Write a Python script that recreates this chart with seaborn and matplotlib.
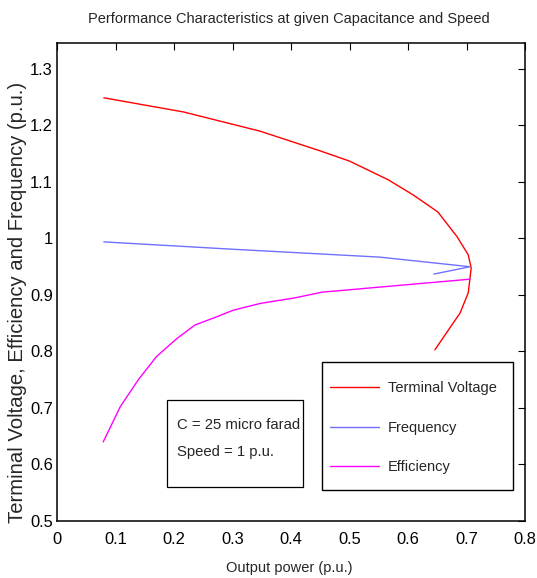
import matplotlib
matplotlib.use("Agg")
import matplotlib.pyplot as plt
from matplotlib import font_manager as fm
import seaborn as sns
from matplotlib.patches import Rectangle

# ---- data ----
volt_x = [0.080, 0.216, 0.347, 0.400, 0.450, 0.500, 0.566, 0.609, 0.651, 0.684, 0.703, 0.708, 0.703, 0.689, 0.675, 0.646]
volt_y = [1.249, 1.224, 1.190, 1.172, 1.155, 1.137, 1.104, 1.077, 1.047, 1.003, 0.971, 0.948, 0.904, 0.868, 0.847, 0.803]

freq_x = [0.080, 0.300, 0.552, 0.706, 0.644]
freq_y = [0.994, 0.981, 0.967, 0.950, 0.937]

eff_x = [0.079, 0.108, 0.139, 0.170, 0.205, 0.236, 0.267, 0.301, 0.347, 0.407, 0.453, 0.552, 0.706]
eff_y = [0.640, 0.702, 0.750, 0.791, 0.823, 0.847, 0.859, 0.873, 0.885, 0.895, 0.905, 0.914, 0.928]

labels = ["Terminal Voltage", "Frequency", "Efficiency"]
colors = ["#ff0000", "#7070ff", "#ff00ff"]
xticks = [0, 0.1, 0.2, 0.3, 0.4, 0.5, 0.6, 0.7, 0.8]
xtick_labels = ["0", "0.1", "0.2", "0.3", "0.4", "0.5", "0.6", "0.7", "0.8"]
yticks = [0.5, 0.6, 0.7, 0.8, 0.9, 1.0, 1.1, 1.2, 1.3]
ytick_labels = ["0.5", "0.6", "0.7", "0.8", "0.9", "1", "1.1", "1.2", "1.3"]
title = "Performance Characteristics at given Capacitance and Speed"
xlabel = "Output power (p.u.)"
ylabel = "Terminal Voltage, Efficiency and Frequency (p.u.)"
note_lines = ["C = 25 micro farad", "Speed = 1 p.u."]

sns.set_style("white")

installed = {f.name for f in fm.fontManager.ttflist}
if "Liberation Sans Narrow" in installed:
    narrow = ["Liberation Sans Narrow", "DejaVu Sans"]
    k = 1.0
else:
    narrow = ["Liberation Sans", "DejaVu Sans"]
    k = 0.85
plt.rcParams["font.family"] = narrow

W, H = 537, 578
fig = plt.figure(figsize=(W / 100, H / 100), dpi=100)
ax = fig.add_axes([57 / W, 1 - 521 / H, (525 - 57) / W, (521 - 43) / H])

def axx(px):
    return (px - 57) / 468

def axy(py):
    return (521 - py) / 478

series = [(volt_x, volt_y), (freq_x, freq_y), (eff_x, eff_y)]
for (xs, ys), lab, col in zip(series, labels, colors):
    sns.lineplot(x=xs, y=ys, sort=False, estimator=None, color=col, lw=1.0,
                 label=lab, ax=ax)

ax.set_xlim(0, 0.8)
ax.set_ylim(0.5, 1.346)
ax.set_xticks(xticks)
ax.set_xticklabels(xtick_labels)
ax.set_yticks(yticks)
ax.set_yticklabels(ytick_labels)
ax.tick_params(direction="in", length=5, width=0.8, top=True, right=True,
               labelsize=14 * k, colors="black")
ax.tick_params(axis="x", pad=8)
ax.tick_params(axis="y", pad=3)
for s in ax.spines.values():
    s.set_color("black")
    s.set_linewidth(1.1)

# legend frame
ax.add_patch(Rectangle((axx(322), axy(490)), axx(513) - axx(322), axy(362) - axy(490),
                       transform=ax.transAxes, facecolor="white", edgecolor="black",
                       lw=1.0, zorder=4))
leg = ax.legend(loc="upper left", bbox_to_anchor=(axx(322), axy(373)),
                fontsize=12.4 * k, frameon=False,
                handlelength=3.35, handletextpad=0.62, labelspacing=1.75,
                borderpad=0.55, borderaxespad=0)
leg.set_zorder(5)

# note box
ax.add_patch(Rectangle((axx(167), axy(487)), axx(303) - axx(167), axy(400) - axy(487),
                       transform=ax.transAxes, fill=False, edgecolor="black", lw=0.9, zorder=5))
ax.text(axx(177), axy(425), note_lines[0], transform=ax.transAxes,
        fontsize=12.6 * k, va="center", ha="left")
ax.text(axx(177), axy(452), note_lines[1], transform=ax.transAxes,
        fontsize=12.6 * k, va="center", ha="left")

fig.text(289 / W, 1 - 19 / H, title, ha="center", va="center", fontsize=12.4 * k)
fig.text(289 / W, 1 - 568 / H, xlabel, ha="center", va="center", fontsize=12.4 * k)
fig.text(18 / W, 1 - 302 / H, ylabel, ha="center", va="center", rotation=90,
         fontsize=14.6, family=["Liberation Sans", "DejaVu Sans"])

fig.savefig("out.png", dpi=100, facecolor="white")
